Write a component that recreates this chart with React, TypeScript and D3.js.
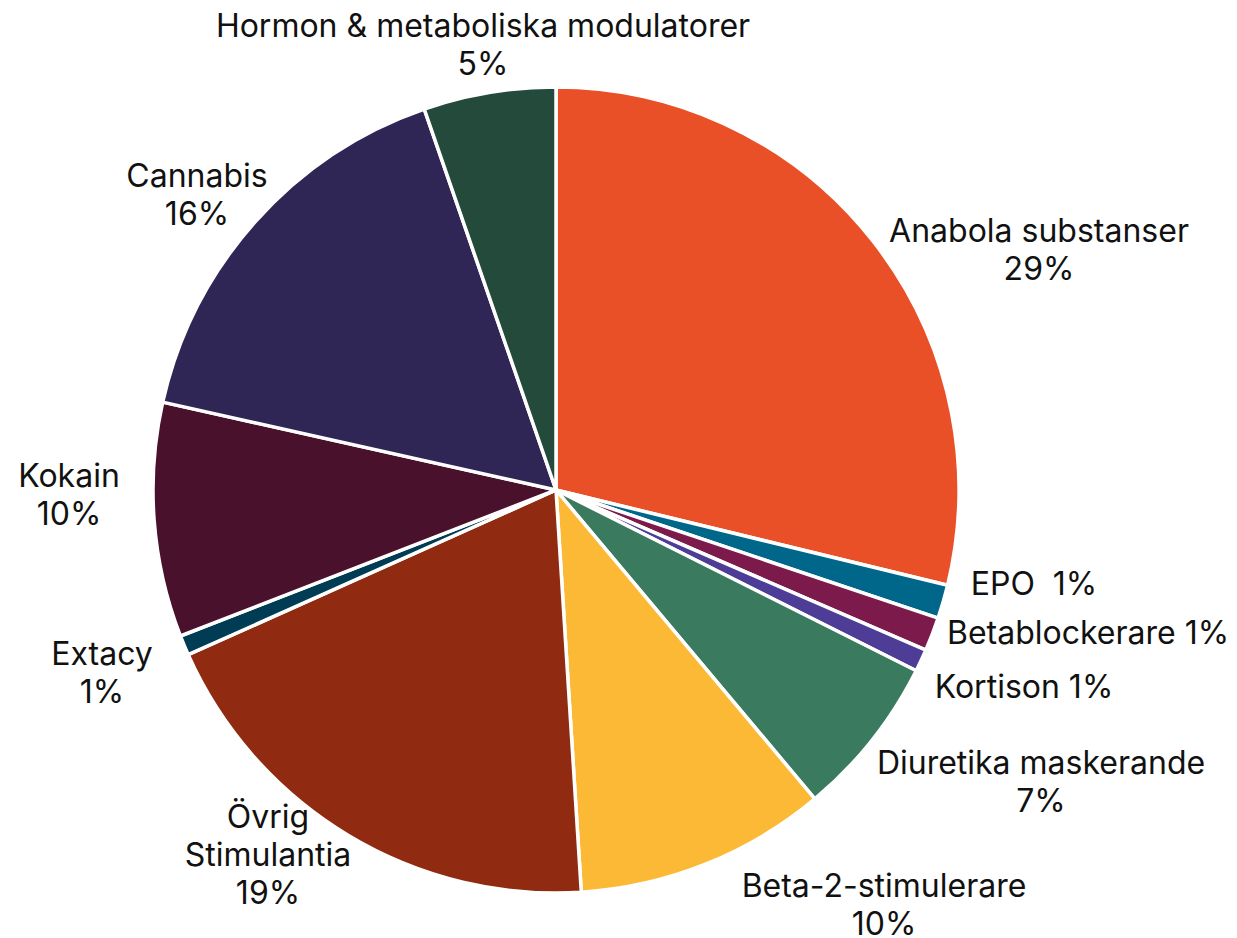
import React from "react";
import * as d3 from "d3";

const categories = [
  "Anabola substanser",
  "EPO",
  "Betablockerare",
  "Kortison",
  "Diuretika maskerande",
  "Beta-2-stimulerare",
  "Övrig Stimulantia",
  "Extacy",
  "Kokain",
  "Cannabis",
  "Hormon & metaboliska modulatorer",
];
const values = [28.8, 1.35, 1.35, 0.9, 6.5, 10.1, 19.3, 0.8, 9.4, 16.2, 5.3];
const pctLabels = ["29%", "1%", "1%", "1%", "7%", "10%", "19%", "1%", "10%", "16%", "5%"];
const labelLines: string[][] = [
  ["Anabola substanser", "29%"],
  ["EPO  1%"],
  ["Betablockerare 1%"],
  ["Kortison 1%"],
  ["Diuretika maskerande", "7%"],
  ["Beta-2-stimulerare", "10%"],
  ["Övrig", "Stimulantia", "19%"],
  ["Extacy", "1%"],
  ["Kokain", "10%"],
  ["Cannabis", "16%"],
  ["Hormon & metaboliska modulatorer", "5%"],
];
const colors = [
  "#E95027", "#00668A", "#7B1A4B", "#4E3D96", "#3A7A5F", "#FBB935",
  "#902A10", "#003D54", "#4A112D", "#2F2656", "#234A3B",
];

// label layout (center x, first baseline y), page-relative
const labelPos: [number, number][] = [
  [1039, 242],
  [1034, 595],
  [1088, 644],
  [1024, 698],
  [1041, 774],
  [884, 897],
  [268, 828],
  [102, 665],
  [69, 487],
  [197, 187],
  [483, 37],
];

const W = 1237;
const H = 938;
const cx = 556;
const cy = 490;
const R = 403;
const FS = 32;
const LH = 38;

export default function App() {
  const pie = d3.pie<number>().sort(null).value((d) => d)(values);
  const arc = d3.arc<d3.PieArcDatum<number>>().innerRadius(0).outerRadius(R);
  return (
    <svg width={W} height={H} style={{ position: "absolute", left: 0, top: 0, background: "#fff" }}>
      <g transform={`translate(${cx},${cy})`}>
        {pie.map((p, i) => (
          <path key={categories[i]} d={arc(p) || ""} fill={colors[i]} stroke="#fff" strokeWidth={3.5} strokeLinejoin="round" />
        ))}
      </g>
      <g fontFamily="Inter, 'Noto Sans', sans-serif" fontSize={FS} fill="#111" textAnchor="middle">
        {labelLines.map((lines, i) => (
          <text key={categories[i]} x={labelPos[i][0]} y={labelPos[i][1]} data-pct={pctLabels[i]}>
            {lines.map((l, j) => (
              <tspan key={j} x={labelPos[i][0]} dy={j === 0 ? 0 : LH} style={{ whiteSpace: "pre" }}>
                {l}
              </tspan>
            ))}
          </text>
        ))}
      </g>
    </svg>
  );
}
